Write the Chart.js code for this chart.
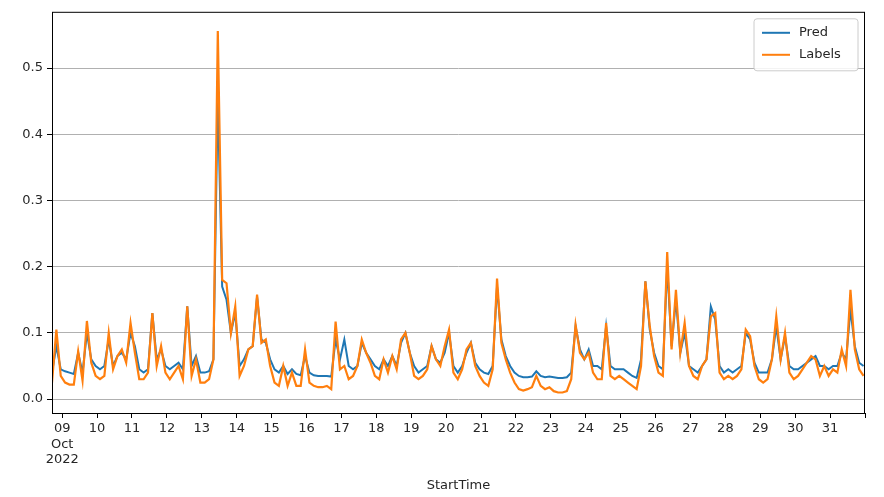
<!DOCTYPE html>
<html><head><meta charset="utf-8">
<script src="https://cdn.jsdelivr.net/npm/chart.js@4/dist/chart.umd.min.js"></script>
<style>html,body{margin:0;padding:0;background:#fff}#wrap{width:884px;height:497px}</style>
</head><body><div id="wrap"><canvas id="c"></canvas></div>
<script>
// time axis: hours relative to 2022-10-09 00:00, one sample every 3 hours
const startHour = -7;
const stepHours = 3;
const dayLabels = ["09","10","11","12","13","14","15","16","17","18","19","20","21","22","23","24","25","26","27","28","29","30","31"];
const yTicks = [0,0.1,0.2,0.3,0.4,0.5];
const pred = [
.04,.08,.045,
.042,.04,.038,.07,.04,.10,.06,.05,
.045,.05,.09,.05,.065,.07,.06,.10,
.08,.045,.04,.045,.13,.06,.075,.05,
.045,.05,.055,.045,.14,.05,.065,.04,
.04,.042,.06,.457,.17,.15,.10,.13,
.05,.06,.075,.08,.155,.09,.085,.06,
.045,.04,.05,.038,.045,.038,.036,.065,
.04,.036,.035,.035,.035,.034,.09,.06,
.09,.05,.045,.05,.085,.07,.06,.05,
.045,.06,.05,.065,.05,.085,.10,.07,
.05,.04,.045,.05,.08,.06,.055,.07,
.10,.05,.04,.05,.07,.085,.055,.045,
.04,.038,.05,.17,.09,.065,.05,.04,
.035,.033,.033,.034,.042,.035,.033,.034,
.033,.032,.032,.033,.04,.11,.075,.06,
.075,.05,.05,.045,.11,.05,.045,.045,
.045,.04,.035,.032,.06,.178,.105,.07,
.05,.045,.20,.08,.15,.07,.10,.05,
.045,.04,.05,.06,.14,.12,.05,.04,
.045,.04,.045,.05,.10,.09,.055,.04,
.04,.04,.06,.11,.06,.095,.05,.045,
.045,.05,.055,.06,.065,.05,.05,.045,
.05,.05,.07,.06,.135,.08,.055,.05
];
const labels = [
.025,.105,.035,
.025,.022,.022,.072,.028,.118,.055,.035,
.03,.035,.10,.045,.065,.075,.055,.115,
.07,.03,.03,.04,.13,.05,.08,.04,
.03,.04,.05,.03,.14,.035,.06,.025,
.025,.03,.06,.556,.18,.175,.10,.14,
.035,.05,.075,.08,.158,.085,.09,.05,
.025,.02,.05,.02,.04,.02,.02,.075,
.025,.02,.018,.018,.02,.015,.117,.045,
.05,.03,.035,.05,.09,.07,.055,.035,
.03,.06,.04,.065,.045,.09,.10,.07,
.035,.03,.035,.045,.08,.06,.05,.08,
.105,.04,.03,.045,.075,.085,.05,.035,
.025,.02,.045,.182,.085,.06,.04,.025,
.015,.013,.015,.018,.035,.02,.015,.018,
.012,.01,.01,.012,.03,.112,.07,.06,
.07,.04,.03,.03,.115,.035,.03,.035,
.03,.025,.02,.015,.05,.178,.11,.065,
.04,.035,.222,.075,.165,.07,.115,.05,
.035,.03,.05,.06,.125,.13,.04,.03,
.035,.03,.035,.045,.105,.095,.05,.03,
.025,.03,.06,.125,.06,.10,.04,.03,
.035,.045,.055,.065,.06,.035,.05,.035,
.045,.04,.075,.05,.165,.075,.045,.035
];
const toXY = arr => arr.map((v,i)=>({x:startHour+i*stepHours,y:v}));
const C_PRED='#1f77b4', C_LAB='#ff7f0e';
const font={family:'DejaVu Sans',size:13};
const boxPlugin={id:'box',afterDraw(ch){
  const a=ch.chartArea,ctx=ch.ctx;ctx.save();
  ctx.strokeStyle='#000';ctx.lineWidth=1;ctx.strokeRect(a.left+0.5,a.top+0.5,a.right-a.left-1,a.bottom-a.top);
  const w=104,h=52,x=a.right-w-7,y=a.top+7;
  ctx.fillStyle='rgba(255,255,255,0.85)';ctx.strokeStyle='#ccc';
  ctx.beginPath();ctx.roundRect(x,y,w,h,3);ctx.fill();ctx.stroke();
  ctx.font='13px DejaVu Sans';ctx.textBaseline='middle';
  ch.data.datasets.forEach((d,i)=>{const yy=y+14+i*22;
    ctx.strokeStyle=d.borderColor;ctx.lineWidth=2;ctx.beginPath();ctx.moveTo(x+8,yy);ctx.lineTo(x+36,yy);ctx.stroke();
    ctx.fillStyle='#262626';ctx.fillText(d.label,x+45,yy);});
  ctx.restore();}};
new Chart(document.getElementById('c'),{
  type:'line',
  data:{datasets:[
    {label:'Pred',data:toXY(pred),borderColor:C_PRED,borderWidth:2,pointRadius:0,tension:0,order:2},
    {label:'Labels',data:toXY(labels),borderColor:C_LAB,borderWidth:2.2,pointRadius:0,tension:0,order:1}
  ]},
  options:{responsive:true,maintainAspectRatio:false,animation:false,
    layout:{padding:{left:0,right:19,top:10,bottom:0}},
    plugins:{legend:{display:false},tooltip:{enabled:false}},
    scales:{
      x:{type:'linear',min:-7,max:552,
        afterBuildTicks(s){const t=[];for(let i=0;i<=dayLabels.length;i++)t.push({value:i*24});s.ticks=t;},
        afterFit(s){s.height=84;},
        ticks:{font,color:'#262626',maxRotation:0,autoSkip:false,padding:3,
          callback(v){const i=Math.round(v/24);if(i>=dayLabels.length)return '';return i===0?[dayLabels[0],'Oct','2022']:dayLabels[i];}},
        grid:{drawOnChartArea:false,drawTicks:true,tickLength:5,color:'#000'},
        border:{display:false},
        title:{display:true,text:'StartTime',font,color:'#262626',padding:{top:4}}},
      y:{min:-0.021,max:0.585,
        afterBuildTicks(s){s.ticks=yTicks.map(v=>({value:v}));},
        afterFit(s){s.width=52;},
        ticks:{font,color:'#262626',padding:4,callback:v=>v.toFixed(1)},
        grid:{color:'#b0b0b0',lineWidth:1,tickLength:5,tickColor:'#000'},
        border:{display:false}}
    }}
  ,plugins:[boxPlugin]});
</script></body></html>
